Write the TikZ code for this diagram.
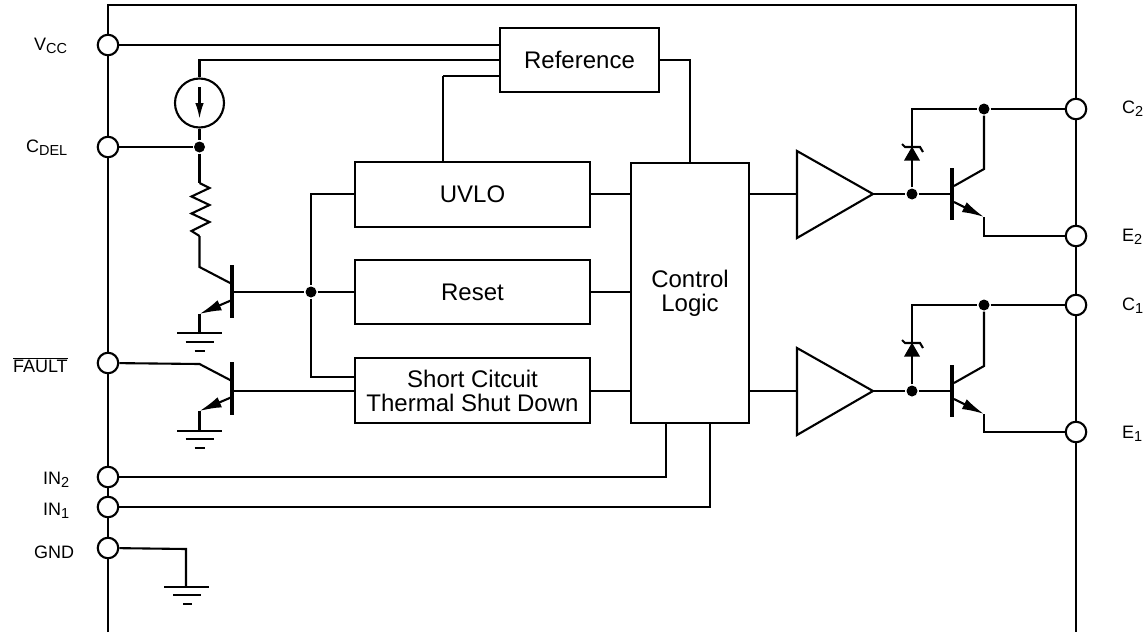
\documentclass[tikz,border=0pt]{standalone}
\usepackage{fontspec}
\setmainfont{Liberation Sans}
\usetikzlibrary{shapes,arrows.meta,positioning}
\tikzstyle{line} = [draw]
\tikzstyle{pin} = [circle, draw, fill=white, minimum size=20.5pt, inner sep=0pt]
\tikzstyle{dot} = [circle, fill=black, minimum size=11pt, inner sep=0pt]
\tikzstyle{block} = [rectangle, draw, fill=white, inner sep=0pt, align=center, font=\fontsize{24}{24}\selectfont]
\tikzstyle{buffer} = [line, line join=miter]
\tikzstyle{bar} = [draw, line width=3.6pt]
\tikzstyle{pinlabel} = [anchor=base west, inner sep=0pt, font=\fontsize{18}{20}\selectfont]
\tikzstyle{emit} = [draw, -{Latex[length=22pt,width=11pt]}]
\tikzstyle{zener} = [fill=black, isosceles triangle, isosceles triangle apex angle=60, shape border rotate=90, minimum height=14pt, inner sep=0pt]
\newcommand{\pinsub}[1]{\raisebox{-3.7pt}{\fontsize{14.5}{15}\selectfont #1}}

\begin{document}
\begin{tikzpicture}[x=1pt, y=-1pt, line width=2.1pt]
	\useasboundingbox (0,0) rectangle (1145,632);

	% package outline
	\coordinate (fl) at (108,632);
	\coordinate (fr) at (1076,632);
	\path [line] (fl) -- (108,5) -- (1076,5) -- (fr);

	\node [pin] (vcc) at (108,45) {};
	\node [pin] (cdel) at (108,147) {};
	\node [pin] (fault) at (108,363) {};
	\node [pin] (in2) at (108,477) {};
	\node [pin] (in1) at (108,507) {};
	\node [pin] (gnd) at (108,548) {};
	\node [pin] (c2) at (1076,109) {};
	\node [pin] (e2) at (1076,236) {};
	\node [pin] (c1) at (1076,305) {};
	\node [pin] (e1) at (1076,432) {};

	\node [pinlabel] (lvcc) at (33,50) {V\pinsub{CC}};
	\node [pinlabel] (lcdel) at (25,152) {C\pinsub{DEL}};
	\node [pinlabel] (lfault) at (12,372) {$\overline{\mbox{FAULT}}$};
	\node [pinlabel] (lin2) at (42,484) {IN\pinsub{2}};
	\node [pinlabel] (lin1) at (42,515) {IN\pinsub{1}};
	\node [pinlabel] (lgnd) at (33,558) {GND};
	\node [pinlabel] (lc2) at (1121,113) {C\pinsub{2}};
	\node [pinlabel] (le2) at (1121,241) {E\pinsub{2}};
	\node [pinlabel] (lc1) at (1121,310) {C\pinsub{1}};
	\node [pinlabel] (le1) at (1121,438) {E\pinsub{1}};

	\node [block, minimum width=159pt, minimum height=64pt] (ref) at (579.5,60) {Reference};
	\node [block, minimum width=235pt, minimum height=65pt] (uvlo) at (472.5,194.5) {UVLO};
	\node [block, minimum width=235pt, minimum height=64pt] (reset) at (472.5,292) {Reset};
	\node [block, minimum width=235pt, minimum height=65pt] (short) at (472.5,390.5) {Short Citcuit\\Thermal Shut Down};
	\node [block, minimum width=118pt, minimum height=260pt] (logic) at (690,293) {Control\\Logic};

	% supply and reference lines
	\path [line] (vcc) -- (vcc -| ref.west);
	\node [circle, draw, minimum size=49pt, inner sep=0pt] (isrc) at (199.5,103) {};
	\coordinate (irail) at (199.5,60);
	\coordinate (urail) at (443,76);
	\coordinate (lrail) at (690,60);
	\coordinate (itop) at (199.5,87);
	\coordinate (ibot) at (199.5,119);
	\path [line] (isrc) -- (irail) -- (irail -| ref.west);
	\path [draw, -{Latex[length=16pt,width=8.5pt]}] (itop) -- (ibot);
	\path [line] (urail -| uvlo.north) -- (urail) -- (urail -| ref.west);
	\path [line] (ref.east |- lrail) -- (lrail) -- (logic.north);
	\coordinate (uup) at (443,163);
	\path [line] (urail) -- (uup);

	% delay pin and resistor
	\node [dot] (ddel) at (199.5,147) {};
	\coordinate (r1) at (199.5,183);
	\coordinate (r2) at (199.5,236);
	\path [line] (cdel) -- (ddel);
	\path [line] (isrc) -- (ddel);
	\path [line] (ddel) -- (r1);
	\path [line, line join=miter] (r1) -- ++(10,5) -- ++(-18,8.5) -- ++(18,8.5) -- ++(-18,8.5) -- ++(18,8.5) -- ++(-18,9) -- (r2);

	% reset transistor
	\coordinate (q1bar) at (232,292);
	\coordinate (q1t) at (232,265);
	\coordinate (q1b) at (232,318);
	\coordinate (q1c) at (199.5,267);
	\coordinate (q1cb) at (232,284);
	\coordinate (q1eb) at (232,300);
	\coordinate (q1e) at (199.5,314);
	\coordinate (g1) at (199.5,333);
	\path [line] (r2) -- (q1c) -- (q1cb);
	\path [bar] (q1t) -- (q1b);
	\path [emit] (q1eb) -- (q1e);
	\path [line] (q1e) -- (g1);
	\path [line] (g1) ++(-22.5,0) -- ++(45,0);
	\path [line] (g1) ++(-14,9) -- ++(28,0);
	\path [line] (g1) ++(-5,18) -- ++(10,0);

	% fault transistor
	\coordinate (q2t) at (232,362);
	\coordinate (q2b) at (232,415);
	\coordinate (q2c) at (199.5,364);
	\coordinate (q2cb) at (232,381);
	\coordinate (q2eb) at (232,397);
	\coordinate (q2e) at (199.5,411);
	\coordinate (g2) at (199.5,431);
	\coordinate (q2base) at (232,391);
	\path [line] (fault) -- (q2c) -- (q2cb);
	\path [bar] (q2t) -- (q2b);
	\path [emit] (q2eb) -- (q2e);
	\path [line] (q2e) -- (g2);
	\path [line] (g2) ++(-22.5,0) -- ++(45,0);
	\path [line] (g2) ++(-14,8) -- ++(28,0);
	\path [line] (g2) ++(-5,17) -- ++(10,0);
	\path [line] (q2base) -- (q2base -| short.west);

	% bus to the three blocks
	\node [dot] (dbus) at (311,292) {};
	\coordinate (bus1) at (311,194);
	\coordinate (bus2) at (311,377);
	\path [line] (q1bar) -- (dbus);
	\path [line] (dbus) -- (reset.west);
	\path [line] (uvlo.west |- bus1) -- (bus1) -- (dbus) -- (bus2) -- (bus2 -| short.west);

	% blocks to logic
	\path [line] (uvlo.east |- bus1) -- (bus1 -| logic.west);
	\path [line] (reset.east) -- (reset.east -| logic.west);
	\path [line] (q2base -| short.east) -- (q2base -| logic.west);

	% inputs
	\coordinate (in2up) at (666,477);
	\coordinate (in1up) at (710,507);
	\path [line] (in2) -- (in2up) -- (in2up |- logic.south);
	\path [line] (in1) -- (in1up) -- (in1up |- logic.south);

	% ground pin
	\coordinate (g3) at (186,587);
	\coordinate (g3k) at (186,549);
	\path [line] (gnd) -- (g3k) -- (g3);
	\path [line] (g3) ++(-22,0) -- ++(45,0);
	\path [line] (g3) ++(-13,8) -- ++(28,0);
	\path [line] (g3) ++(-3,17) -- ++(9,0);

	% upper output stage
	\coordinate (b1in) at (797,194);
	\coordinate (b1t) at (797,151);
	\coordinate (b1b) at (797,238);
	\coordinate (b1o) at (873,194);
	\node [dot] (dg1) at (912,194) {};
	\node [dot] (dc1) at (984,109) {};
	\coordinate (z1) at (912,109);
	\node [zener] (zd1) at (912,156) {};
	\coordinate (z1l) at (902,144);
	\coordinate (z1m) at (905,147);
	\coordinate (z1n) at (920,147);
	\coordinate (z1r) at (923,152);
	\coordinate (t1b) at (952,194);
	\coordinate (t1t) at (952,168);
	\coordinate (t1u) at (952,220);
	\coordinate (t1c) at (984,169);
	\coordinate (t1cb) at (954,186);
	\coordinate (t1eb) at (954,202);
	\coordinate (t1e) at (984,217);
	\coordinate (t1k) at (984,236);
	\path [line] (bus1 -| logic.east) -- (b1in);
	\path [buffer] (b1t) -- (b1b) -- (b1o) -- cycle;
	\path [line] (b1o) -- (dg1);
	\path [line] (dg1) -- (t1b);
	\path [line] (dg1) -- (z1) -- (dc1);
	\path [line] (dc1) -- (c2);
	\path [line] (z1l) -- (z1m) -- (z1n) -- (z1r);
	\path [bar] (t1t) -- (t1u);
	\path [line] (dc1) -- (t1c) -- (t1cb);
	\path [emit] (t1eb) -- (t1e);
	\path [line] (t1e) -- (t1k) -- (e2);

	% lower output stage
	\coordinate (b2in) at (797,391);
	\coordinate (b2t) at (797,348);
	\coordinate (b2b) at (797,435);
	\coordinate (b2o) at (873,391);
	\node [dot] (dg2) at (912,391) {};
	\node [dot] (dc2) at (984,305) {};
	\coordinate (z2) at (912,305);
	\node [zener] (zd2) at (912,352) {};
	\coordinate (z2l) at (902,340);
	\coordinate (z2m) at (905,343);
	\coordinate (z2n) at (920,343);
	\coordinate (z2r) at (923,348);
	\coordinate (t2b) at (952,391);
	\coordinate (t2t) at (952,365);
	\coordinate (t2u) at (952,417);
	\coordinate (t2c) at (984,366);
	\coordinate (t2cb) at (954,383);
	\coordinate (t2eb) at (954,399);
	\coordinate (t2e) at (984,414);
	\coordinate (t2k) at (984,432);
	\path [line] (q2base -| logic.east) -- (b2in);
	\path [buffer] (b2t) -- (b2b) -- (b2o) -- cycle;
	\path [line] (b2o) -- (dg2);
	\path [line] (dg2) -- (t2b);
	\path [line] (dg2) -- (z2) -- (dc2);
	\path [line] (dc2) -- (c1);
	\path [line] (z2l) -- (z2m) -- (z2n) -- (z2r);
	\path [bar] (t2t) -- (t2u);
	\path [line] (dc2) -- (t2c) -- (t2cb);
	\path [emit] (t2eb) -- (t2e);
	\path [line] (t2e) -- (t2k) -- (e1);
\end{tikzpicture}
\end{document}
